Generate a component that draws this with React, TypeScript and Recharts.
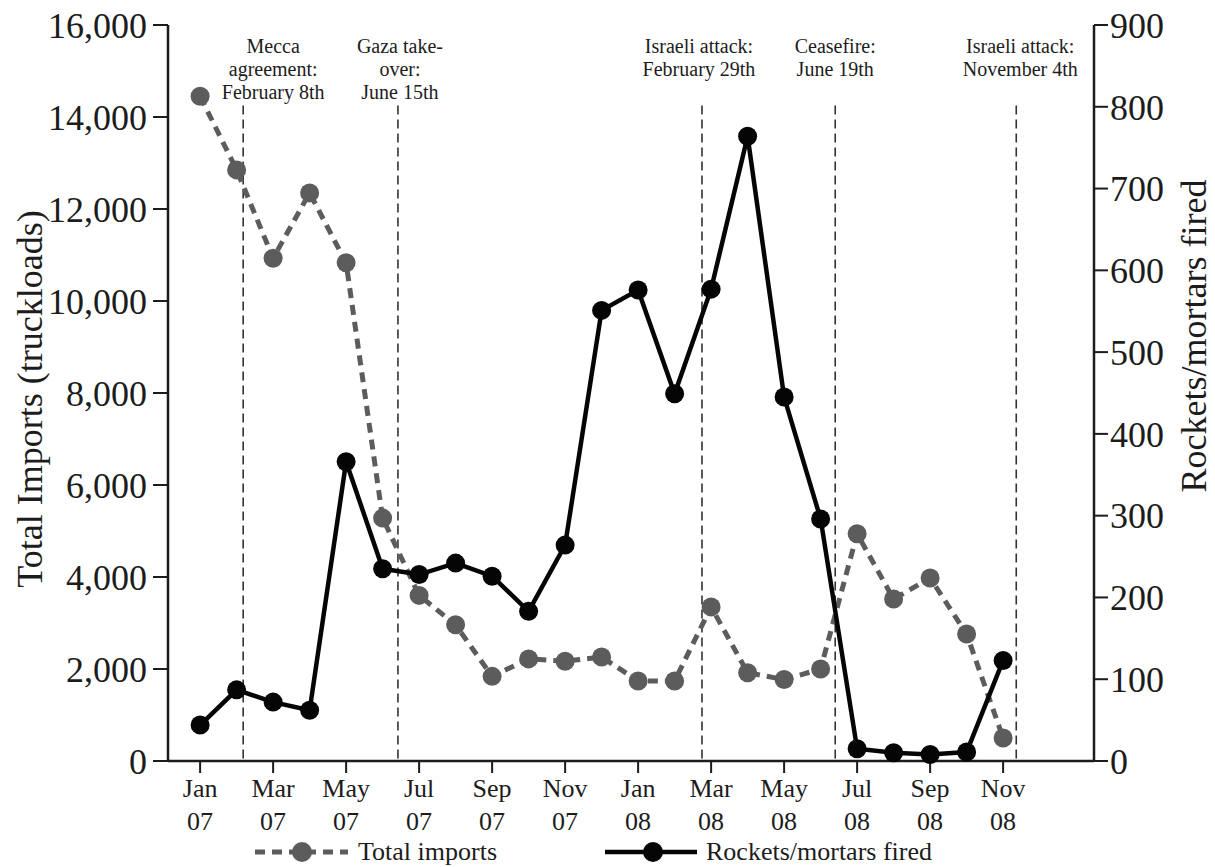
import { LineChart, Line, XAxis, YAxis, ReferenceLine } from "recharts";

const FONT = '"Liberation Serif", "DejaVu Serif", serif';
const INK = "#1c1c1c";
const GREY = "#5c5c5c";

// monthly series, Jan 2007 - Nov 2008
const months = [
  "Jan 07", "Feb 07", "Mar 07", "Apr 07", "May 07", "Jun 07", "Jul 07", "Aug 07",
  "Sep 07", "Oct 07", "Nov 07", "Dec 07", "Jan 08", "Feb 08", "Mar 08", "Apr 08",
  "May 08", "Jun 08", "Jul 08", "Aug 08", "Sep 08", "Oct 08", "Nov 08",
];

const totalImports = [
  14450, 12850, 10930, 12350, 10830, 5280, 3600, 2960, 1840, 2220, 2170, 2260,
  1740, 1740, 3350, 1920, 1770, 2000, 4940, 3520, 3980, 2760, 500,
];

const rocketsFired = [
  44, 87, 72, 62, 366, 235, 228, 242, 226, 183, 264, 551, 576, 449, 577, 764,
  445, 296, 15, 10, 8, 11, 123,
];

const seriesLabels = ["Total imports", "Rockets/mortars fired"];

const importTicks = [0, 2000, 4000, 6000, 8000, 10000, 12000, 14000, 16000];
const rocketTicks = [0, 100, 200, 300, 400, 500, 600, 700, 800, 900];
const monthTicks = [0, 2, 4, 6, 8, 10, 12, 14, 16, 18, 20, 22];

// events, position in months since Jan 07
const eventAt = [1.18, 5.42, 13.75, 17.4, 22.36];
const eventText = [
  ["Mecca", "agreement:", "February 8th"],
  ["Gaza take-", "over:", "June 15th"],
  ["Israeli attack:", "February 29th"],
  ["Ceasefire:", "June 19th"],
  ["Israeli attack:", "November 4th"],
];
const eventShift = [30, 2, -3, 0, 4];
const EVENT_TOP = 14250;

const chartData = months.map((m, i) => ({
  idx: i,
  month: m,
  imports: totalImports[i],
  rockets: rocketsFired[i],
}));

const MonthTick = (props: any) => {
  const { x, y, payload } = props;
  const label = months[payload.value] || "";
  const [mon, yr] = label.split(" ");
  return (
    <text x={x} y={y} textAnchor="middle" fontFamily={FONT} fontSize={26} fill={INK}>
      <tspan x={x} dy={22}>{mon}</tspan>
      <tspan x={x} dy={33}>{yr}</tspan>
    </text>
  );
};

// each event line gets its own <text> so the rows don't collide
const eventLabel = (lines: string[], shift: number) => (props: any) => {
  const vb = props.viewBox || {};
  const top = Math.min(vb.y, vb.y + (vb.height || 0));
  const cx = vb.x + shift;
  return (
    <g>
      {lines.map((t, k) => (
        <text key={k} x={cx} y={top - 53 + k * 23} textAnchor="middle"
          fontFamily={FONT} fontSize={20} fill={INK}>
          {t}
        </text>
      ))}
    </g>
  );
};

const leftTitle = (props: any) => {
  const vb = props.viewBox;
  const x = vb.x + 42;
  const y = vb.y + vb.height / 2 + 6;
  return (
    <text x={x} y={y} transform={`rotate(-90, ${x}, ${y})`} textAnchor="middle"
      fontFamily={FONT} fontSize={36} fill={INK}>
      Total Imports (truckloads)
    </text>
  );
};

const rightTitle = (props: any) => {
  const vb = props.viewBox;
  const x = vb.x + 112;
  const y = vb.y + vb.height / 2 - 57;
  return (
    <text x={x} y={y} transform={`rotate(-90, ${x}, ${y})`} textAnchor="middle"
      fontFamily={FONT} fontSize={36} fill={INK}>
      Rockets/mortars fired
    </text>
  );
};

export default function App() {
  return (
    <div style={{ position: "absolute", left: 0, top: 0, width: 1215, height: 867, background: "#fff" }}>
      <LineChart
        width={1215}
        height={867}
        data={chartData}
        margin={{ top: 25, right: 0, bottom: 0, left: 0 }}
      >
        <XAxis
          type="number"
          dataKey="idx"
          domain={[-0.88, 24.49]}
          allowDataOverflow
          ticks={monthTicks}
          interval={0}
          tick={<MonthTick />}
          tickSize={12}
          tickMargin={2}
          tickLine={{ stroke: INK, strokeWidth: 2 }}
          axisLine={{ stroke: INK, strokeWidth: 2.5 }}
          height={106}
        />
        <YAxis
          yAxisId="left"
          orientation="left"
          width={168}
          domain={[0, 16000]}
          ticks={importTicks}
          interval={0}
          tickFormatter={(v: number) => v.toLocaleString("en-US")}
          tickSize={15}
          tickMargin={6}
          tick={{ fontSize: 36, fill: INK, fontFamily: FONT }}
          tickLine={{ stroke: INK, strokeWidth: 2 }}
          axisLine={{ stroke: INK, strokeWidth: 2.5 }}
          label={leftTitle}
        />
        <YAxis
          yAxisId="right"
          orientation="right"
          width={121}
          domain={[0, 900]}
          ticks={rocketTicks}
          interval={0}
          tickSize={14}
          tickMargin={2}
          tick={{ fontSize: 36, fill: INK, fontFamily: FONT }}
          tickLine={{ stroke: INK, strokeWidth: 2 }}
          axisLine={{ stroke: INK, strokeWidth: 2.5 }}
          label={rightTitle}
        />
        {eventAt.map((at, i) => (
          <ReferenceLine
            key={i}
            yAxisId="left"
            segment={[{ x: at, y: EVENT_TOP }, { x: at, y: 0 }]}
            stroke="#333"
            strokeWidth={1.6}
            strokeDasharray="9 5"
            label={eventLabel(eventText[i], eventShift[i])}
          />
        ))}
        <Line
          yAxisId="left"
          dataKey="imports"
          name={seriesLabels[0]}
          type="linear"
          stroke={GREY}
          strokeWidth={5}
          strokeDasharray="10 7"
          dot={{ r: 9.5, fill: GREY, stroke: GREY, strokeWidth: 0, strokeDasharray: "" }}
          isAnimationActive={false}
        />
        <Line
          yAxisId="right"
          dataKey="rockets"
          name={seriesLabels[1]}
          type="linear"
          stroke="#050505"
          strokeWidth={4.5}
          dot={{ r: 9.5, fill: "#050505", stroke: "#050505", strokeWidth: 0 }}
          isAnimationActive={false}
        />
      </LineChart>
      <div
        style={{
          position: "absolute",
          left: 255,
          top: 836,
          height: 32,
          display: "flex",
          alignItems: "center",
          fontFamily: FONT,
          fontSize: 26,
          lineHeight: "32px",
          color: INK,
          whiteSpace: "nowrap",
        }}
      >
        <svg width={93} height={24}>
          <line x1={0} y1={12} x2={93} y2={12} stroke={GREY} strokeWidth={5} strokeDasharray="10 7" />
          <circle cx={47} cy={12} r={10} fill={GREY} />
        </svg>
        <span style={{ marginLeft: 10 }}>{seriesLabels[0]}</span>
        <svg width={92} height={24} style={{ marginLeft: 108 }}>
          <line x1={0} y1={12} x2={92} y2={12} stroke="#050505" strokeWidth={4.5} />
          <circle cx={48} cy={12} r={10} fill="#050505" />
        </svg>
        <span style={{ marginLeft: 9 }}>{seriesLabels[1]}</span>
      </div>
    </div>
  );
}
